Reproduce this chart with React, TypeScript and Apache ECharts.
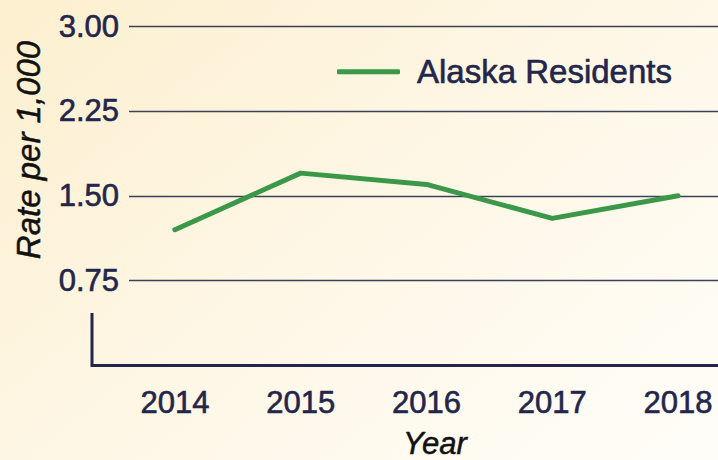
import React, { useEffect, useRef } from "react";
import * as echarts from "echarts";

const years = ["2014", "2015", "2016", "2017", "2018"];
const alaskaResidents = [1.2, 1.7, 1.6, 1.3, 1.5];
const seriesName = "Alaska Residents";
const yTitle = "Rate per 1,000";
const xTitle = "Year";

const NAVY = "#23264a";
const FONT = "'Liberation Sans', Arial, Helvetica, sans-serif";
const HEAVY = { textBorderColor: NAVY, textBorderWidth: 0.6 };

export default function App() {
  const ref = useRef<HTMLDivElement>(null);
  useEffect(() => {
    if (!ref.current) return;
    const chart = echarts.init(ref.current, undefined, { renderer: "svg" });
    chart.setOption({
      animation: false,
      backgroundColor: new echarts.graphic.LinearGradient(0, 0.1, 1, 0.9, [
        { offset: 0, color: "#fdf0d1" },
        { offset: 0.5, color: "#fef7e6" },
        { offset: 1, color: "#fffdf7" },
      ]),
      textStyle: { fontFamily: FONT },
      grid: [
        { left: 112, width: 629, top: 26, bottom: 94.5, outerBoundsMode: "none" },
        { left: 129, right: 0, top: 26, bottom: 94.5, outerBoundsMode: "none" },
      ],
      legend: {
        left: 337,
        top: 55,
        padding: 0,
        icon: "roundRect",
        itemWidth: 63,
        itemHeight: 5,
        data: [seriesName],
        textStyle: {
          fontFamily: FONT,
          fontSize: 33,
          color: NAVY,
          padding: [0, 0, 0, 12],
          ...HEAVY,
        },
      },
      xAxis: [
        {
          type: "category",
          gridIndex: 0,
          data: years,
          boundaryGap: true,
          axisLine: { show: false },
          axisTick: { show: false },
          splitLine: { show: false },
          axisLabel: {
            margin: 21,
            fontSize: 31,
            color: NAVY,
            fontFamily: FONT,
            ...HEAVY,
          },
        },
        {
          type: "value",
          gridIndex: 1,
          show: false,
          min: 0,
          max: 1,
        },
      ],
      yAxis: [
        {
          type: "value",
          gridIndex: 0,
          min: 0,
          max: 3,
          interval: 0.75,
          show: false,
          splitLine: { show: false },
        },
        {
          type: "value",
          gridIndex: 1,
          min: 0,
          max: 3,
          interval: 0.75,
          axisLine: { show: false },
          axisTick: { show: false },
          splitLine: { show: true, lineStyle: { color: "#3d4059", width: 1.3 } },
          axisLabel: {
            margin: 10,
            fontSize: 31,
            color: NAVY,
            fontFamily: FONT,
            ...HEAVY,
            formatter: (v: number) => (v === 0 ? "" : v.toFixed(2)),
          },
        },
      ],
      graphic: [
        {
          type: "polyline",
          shape: { points: [[92, 313], [92, 365.5], [718, 365.5]] },
          style: { stroke: NAVY, lineWidth: 3, fill: "none" },
          z: 10,
        },
        {
          type: "text",
          x: 28,
          y: 150,
          rotation: Math.PI / 2,
          style: {
            text: yTitle,
            fontFamily: FONT,
            fontSize: 33,
            fontStyle: "italic",
            fill: "#111111",
            stroke: "#111111",
            lineWidth: 0.5,
            align: "center",
            verticalAlign: "middle",
          },
        },
        {
          type: "text",
          x: 435,
          y: 443,
          style: {
            text: xTitle,
            fontFamily: FONT,
            fontSize: 31,
            fontStyle: "italic",
            fill: "#111111",
            stroke: "#111111",
            lineWidth: 0.5,
            align: "center",
            verticalAlign: "middle",
          },
        },
      ],
      series: [
        {
          name: seriesName,
          type: "line",
          xAxisIndex: 0,
          yAxisIndex: 0,
          data: alaskaResidents,
          symbol: "none",
          color: "#3a9848",
          lineStyle: { width: 5, color: "#3a9848", cap: "round", join: "round" },
          z: 5,
        },
      ],
    });
    return () => chart.dispose();
  }, []);
  return (
    <div
      ref={ref}
      style={{ position: "fixed", left: 0, top: 0, width: 718, height: 460 }}
    />
  );
}
